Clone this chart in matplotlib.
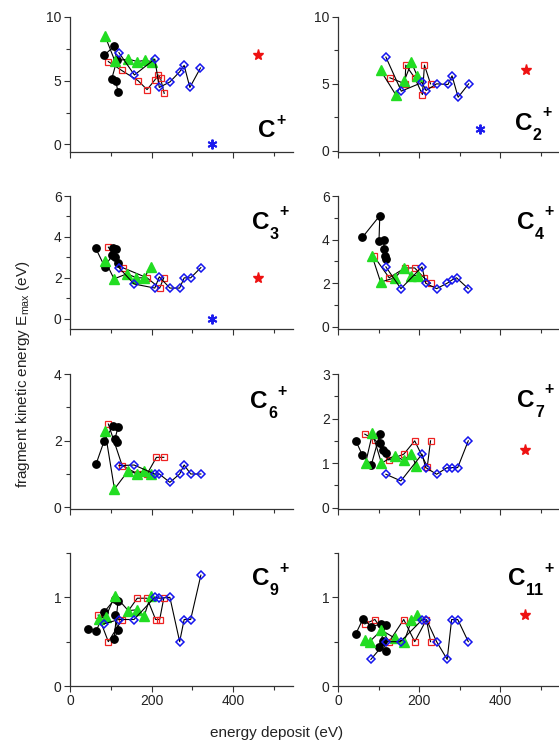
import matplotlib
matplotlib.use("Agg")
import matplotlib.pyplot as plt
from matplotlib.ticker import FixedLocator, NullFormatter, FixedFormatter

plt.rcParams['font.family'] = ['Liberation Sans', 'DejaVu Sans']
plt.rcParams['mathtext.fontset'] = 'custom'
plt.rcParams['mathtext.rm'] = 'Liberation Sans'
plt.rcParams['mathtext.it'] = 'Liberation Sans:italic'
plt.rcParams['mathtext.bf'] = 'Liberation Sans:bold'

# ---------------- data (energy deposit eV, Emax eV) ----------------
# C+
C1_black_x = [84, 108, 115, 102, 112, 118]
C1_black_y = [7.0, 7.7, 6.6, 5.1, 5.0, 4.1]
C1_red_x = [94, 127, 167, 189, 208, 216, 222, 231]
C1_red_y = [6.5, 5.8, 5.0, 4.3, 5.05, 5.45, 5.2, 4.0]
C1_green_x = [86, 110, 143, 165, 184, 200]
C1_green_y = [8.5, 6.55, 6.7, 6.5, 6.6, 6.5]
C1_blue_x = [120, 158, 208, 219, 245, 269, 280, 294, 320]
C1_blue_y = [7.2, 5.45, 6.7, 4.47, 4.9, 5.7, 6.2, 4.47, 6.0]
C1_star = (460, 7.0)
C1_ast = (349, 0.0)

# C2+
C2_red_x = [128, 165, 167, 189, 208, 213, 228]
C2_red_y = [5.45, 5.0, 6.4, 5.45, 4.2, 6.4, 5.0]
C2_green_x = [105, 142, 163, 181, 195]
C2_green_y = [6.0, 4.2, 5.2, 6.6, 5.6]
C2_blue_x = [118, 156, 207, 217, 243, 271, 281, 296, 322]
C2_blue_y = [7.0, 4.45, 5.1, 4.5, 5.0, 4.95, 5.6, 4.0, 5.0]
C2_star = (464, 6.0)
C2_ast = (350, 1.65)

# C3+
C3_black_x = [63, 85, 104, 106, 112, 110, 118]
C3_black_y = [3.45, 2.55, 3.1, 3.45, 3.4, 3.0, 2.75]
C3_red_x = [94, 129, 189, 220, 230]
C3_red_y = [3.5, 2.5, 2.0, 1.5, 2.0]
C3_green_x = [87, 108, 140, 163, 182, 198]
C3_green_y = [2.8, 1.95, 2.2, 2.0, 2.0, 2.55]
C3_blue_x = [120, 157, 208, 219, 245, 269, 280, 296, 321]
C3_blue_y = [2.5, 1.7, 1.5, 2.05, 1.5, 1.5, 2.0, 2.0, 2.5]
C3_star = (461, 2.0)
C3_ast = (349, 0.0)

# C4+
C4_black_x = [60, 103, 101, 113, 113, 115, 118]
C4_black_y = [4.1, 5.1, 3.95, 4.0, 3.55, 3.25, 3.1]
C4_red_x = [88, 126, 165, 189, 212, 228]
C4_red_y = [3.25, 2.25, 2.7, 2.7, 2.25, 2.0]
C4_green_x = [84, 105, 140, 163, 179, 196]
C4_green_y = [3.25, 2.05, 2.25, 2.7, 2.35, 2.35]
C4_blue_x = [118, 155, 207, 216, 243, 269, 281, 292, 321]
C4_blue_y = [2.75, 1.75, 2.75, 2.0, 1.75, 2.0, 2.15, 2.25, 1.75]

# C6+
C6_black_x = [64, 84, 106, 118, 110, 116]
C6_black_y = [1.3, 2.0, 2.45, 2.4, 2.05, 1.95]
C6_red_x = [94, 128, 167, 189, 212, 230]
C6_red_y = [2.5, 1.25, 1.0, 1.0, 1.5, 1.5]
C6_green_x = [86, 109, 143, 165, 182, 198]
C6_green_y = [2.28, 0.55, 1.1, 1.0, 1.1, 1.0]
C6_blue_x = [120, 157, 208, 219, 245, 269, 280, 296, 321]
C6_blue_y = [1.25, 1.27, 1.0, 1.0, 0.75, 1.0, 1.27, 1.0, 1.0]

# C7+
C7_black_x = [44, 60, 82, 103, 103, 111, 118]
C7_black_y = [1.5, 1.18, 0.96, 1.65, 1.45, 1.3, 1.23]
C7_red_x = [66, 92, 125, 162, 189, 220, 228]
C7_red_y = [1.65, 1.52, 1.07, 1.2, 1.5, 0.92, 1.5]
C7_green_x = [68, 85, 107, 140, 162, 181, 193]
C7_green_y = [1.0, 1.67, 1.0, 1.17, 1.06, 1.2, 0.93]
C7_blue_x = [118, 155, 207, 216, 243, 269, 280, 295, 321]
C7_blue_y = [0.75, 0.6, 1.2, 0.9, 0.75, 0.9, 0.9, 0.9, 1.5]
C7_star = (461, 1.3)

# C9+
C9_black_x = [43, 65, 83, 110, 118, 108, 118, 110]
C9_black_y = [0.645, 0.625, 0.83, 0.98, 0.96, 0.53, 0.63, 0.8]
C9_red_x = [69, 94, 128, 165, 189, 210, 220, 230]
C9_red_y = [0.8, 0.5, 0.75, 0.99, 0.99, 0.75, 0.75, 0.99]
C9_green_x = [71, 88, 110, 143, 165, 182, 198]
C9_green_y = [0.76, 0.78, 1.02, 0.85, 0.86, 0.79, 1.02]
C9_blue_x = [83, 120, 157, 208, 219, 245, 269, 280, 296, 321]
C9_blue_y = [0.7, 0.75, 0.75, 1.0, 0.99, 1.0, 0.5, 0.75, 0.75, 1.25]

# C11+
C11_black_x = [44, 62, 82, 107, 118, 101, 118, 111]
C11_black_y = [0.59, 0.76, 0.67, 0.7, 0.69, 0.44, 0.4, 0.51]
C11_red_x = [66, 91, 126, 162, 189, 218, 228]
C11_red_y = [0.7, 0.75, 0.5, 0.75, 0.5, 0.75, 0.5]
C11_green_x = [66, 78, 107, 140, 163, 181, 195]
C11_green_y = [0.52, 0.5, 0.63, 0.54, 0.5, 0.74, 0.8]
C11_blue_x = [81, 118, 154, 208, 218, 243, 269, 280, 295, 321]
C11_blue_y = [0.3, 0.5, 0.5, 0.75, 0.75, 0.5, 0.3, 0.75, 0.75, 0.5]
C11_star = (461, 0.8)

x_ticks = [0, 200, 400]
x_minor = [100, 300, 500]

# ---------------- layout ----------------
W, H = 559, 745
fig = plt.figure(figsize=(W / 100, H / 100), dpi=100)

rows_px = [(17, 152), (196, 329), (374, 509), (553, 686)]
cols_px = [(70, 293), (338, 560)]

panels = [
    dict(sub='', row=0, col=0, ylim=(-0.6, 10), yt=[0, 5, 10], ym=[2.5, 7.5],
         black=(C1_black_x, C1_black_y), red=(C1_red_x, C1_red_y), green=(C1_green_x, C1_green_y),
         blue=(C1_blue_x, C1_blue_y), star=C1_star, ast=C1_ast, lab=(0.843, 0.111)),
    dict(sub='2', row=0, col=1, ylim=(-0.1, 10), yt=[0, 5, 10], ym=[2.5, 7.5],
         black=None, red=(C2_red_x, C2_red_y), green=(C2_green_x, C2_green_y),
         blue=(C2_blue_x, C2_blue_y), star=C2_star, ast=C2_ast, lab=(0.797, 0.163)),
    dict(sub='3', row=1, col=0, ylim=(-0.5, 6), yt=[0, 2, 4, 6], ym=[1, 3, 5],
         black=(C3_black_x, C3_black_y), red=(C3_red_x, C3_red_y), green=(C3_green_x, C3_green_y),
         blue=(C3_blue_x, C3_blue_y), star=C3_star, ast=C3_ast, lab=(0.816, 0.752)),
    dict(sub='4', row=1, col=1, ylim=(-0.1, 6), yt=[0, 2, 4, 6], ym=[1, 3, 5],
         black=(C4_black_x, C4_black_y), red=(C4_red_x, C4_red_y), green=(C4_green_x, C4_green_y),
         blue=(C4_blue_x, C4_blue_y), star=None, ast=None, lab=(0.806, 0.752)),
    dict(sub='6', row=2, col=0, ylim=(-0.05, 4), yt=[0, 2, 4], ym=[1, 3],
         black=(C6_black_x, C6_black_y), red=(C6_red_x, C6_red_y), green=(C6_green_x, C6_green_y),
         blue=(C6_blue_x, C6_blue_y), star=None, ast=None, lab=(0.807, 0.748)),
    dict(sub='7', row=2, col=1, ylim=(-0.03, 3), yt=[0, 1, 2, 3], ym=[0.5, 1.5, 2.5],
         black=(C7_black_x, C7_black_y), red=(C7_red_x, C7_red_y), green=(C7_green_x, C7_green_y),
         blue=(C7_blue_x, C7_blue_y), star=C7_star, ast=None, lab=(0.806, 0.756)),
    dict(sub='9', row=3, col=0, ylim=(0, 1.5), yt=[0, 1], ym=[0.5, 1.5],
         black=(C9_black_x, C9_black_y), red=(C9_red_x, C9_red_y), green=(C9_green_x, C9_green_y),
         blue=(C9_blue_x, C9_blue_y), star=None, ast=None, lab=(0.816, 0.759)),
    dict(sub='11', row=3, col=1, ylim=(0, 1.5), yt=[0, 1], ym=[0.5, 1.5],
         black=(C11_black_x, C11_black_y), red=(C11_red_x, C11_red_y), green=(C11_green_x, C11_green_y),
         blue=(C11_blue_x, C11_blue_y), star=C11_star, ast=None, lab=(0.766, 0.759)),
]

axis_col = '#333333'
line_kw = dict(color='black', lw=0.8)

C_FS = 17.5     # size of the big "C"
S_FS = 11.5     # size of subscript / superscript
C_ADV = 0.722 * C_FS
D_ADV = 0.556 * S_FS

for p in panels:
    t, b = rows_px[p['row']]
    l, r = cols_px[p['col']]
    ax = fig.add_axes([l / W, 1 - b / H, (r - l) / W, (b - t) / H])
    ax.set_xlim(0, 547)
    ax.set_ylim(*p['ylim'])
    for s in ['top', 'right']:
        ax.spines[s].set_visible(False)
    for s in ['left', 'bottom']:
        ax.spines[s].set_color(axis_col)
        ax.spines[s].set_linewidth(0.9)

    if p['red'] is not None:
        ax.plot(*p['red'], ls='-', marker='s', ms=4.8, mfc='none', mec='#ee2222', mew=0.9, zorder=3, **line_kw)
    if p['black'] is not None:
        ax.plot(*p['black'], ls='-', marker='o', ms=5.3, mfc='black', mec='black', zorder=4, **line_kw)
    if p['green'] is not None:
        ax.plot(*p['green'], ls='-', marker='^', ms=6.5, mfc='#22dd22', mec='#22dd22', zorder=5, **line_kw)
    if p['blue'] is not None:
        ax.plot(*p['blue'], ls='-', marker='D', ms=4.3, mfc='none', mec='#1515ee', mew=1.1, zorder=6, **line_kw)
    if p['star'] is not None:
        ax.plot([p['star'][0]], [p['star'][1]], ls='none', marker='*', ms=8, color='#ee1111', zorder=6)
    if p['ast'] is not None:
        ax.plot([p['ast'][0]], [p['ast'][1]], ls='none', marker=(6, 2, 0), ms=7, mew=1.4,
                color='#1a1aee', zorder=6)

    ax.xaxis.set_major_locator(FixedLocator(x_ticks))
    ax.xaxis.set_minor_locator(FixedLocator(x_minor))
    ax.yaxis.set_major_locator(FixedLocator(p['yt']))
    ax.yaxis.set_minor_locator(FixedLocator(p['ym']))
    ax.tick_params(axis='both', which='major', direction='out', length=4, width=0.8,
                   color=axis_col, labelsize=10, labelcolor='#222222', pad=2)
    ax.tick_params(axis='both', which='minor', direction='out', length=3, width=0.8, color=axis_col)
    ax.yaxis.set_major_formatter(FixedFormatter([('%g' % v) for v in p['yt']]))
    if p['row'] != 3:
        ax.xaxis.set_major_formatter(NullFormatter())
    else:
        ax.xaxis.set_major_formatter(FixedFormatter([str(v) for v in x_ticks]))

    # panel label: C, subscript, superscript +
    lx, ly = p['lab']
    ax.annotate('C', xy=(lx, ly), xycoords='axes fraction', ha='left', va='baseline',
                fontsize=C_FS, fontweight='bold', color='black')
    sub = p['sub']
    if sub:
        ax.annotate(sub, xy=(lx, ly), xycoords='axes fraction', xytext=(C_ADV + 0.3, -7.5),
                    textcoords='offset points', ha='left', va='baseline',
                    fontsize=S_FS, fontweight='bold', color='black')
    plus_x = C_ADV + 0.3 + len(sub) * D_ADV + (0.3 if sub else 0.0)
    ax.annotate('+', xy=(lx, ly), xycoords='axes fraction', xytext=(plus_x, 9.0),
                textcoords='offset points', ha='left', va='baseline',
                fontsize=S_FS, fontweight='bold', color='black')

fig.text(23 / W, 1 - 374 / H, r'fragment kinetic energy E$_{\mathrm{max}}$ (eV)', rotation=90,
         ha='center', va='center', fontsize=11, color='#222222')
fig.text(277 / W, 1 - 733 / H, 'energy deposit (eV)', ha='center', va='center', fontsize=11, color='#222222')

fig.savefig('out.png', dpi=100)
